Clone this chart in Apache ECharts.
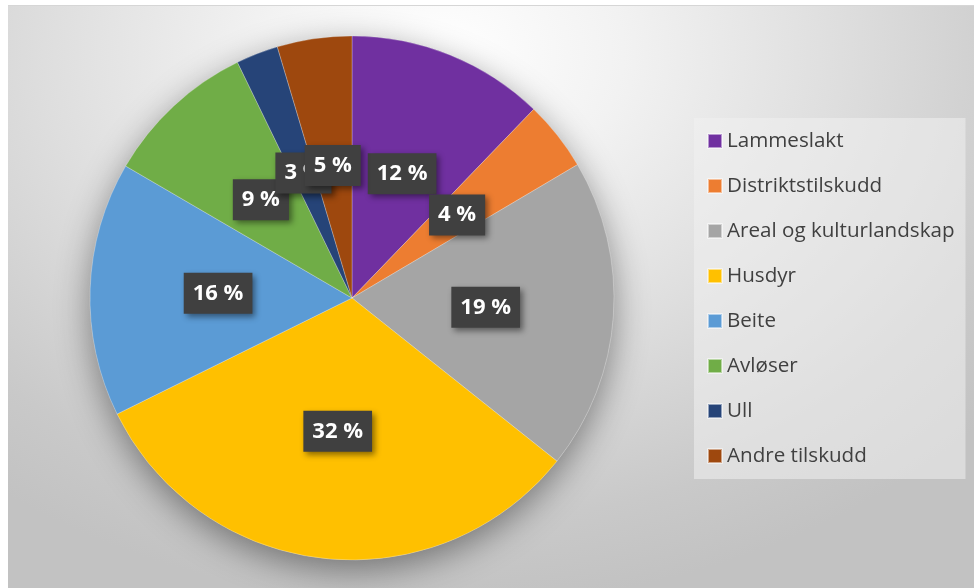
<!DOCTYPE html>
<html>
<head>
<meta charset="utf-8">
<script src="https://cdn.jsdelivr.net/npm/echarts@6/dist/echarts.min.js"></script>
<style>
  html, body { margin: 0; padding: 0; background: #ffffff; }
  #bg { position: absolute; left: 8px; top: 5px; width: 966px; height: 583px;
        border-top: 1px solid #d6d6d6;
        background: radial-gradient(ellipse 75% 95% at 45% 8%, #ffffff 0%, #f2f2f2 25%, #dedede 55%, #c9c9c9 85%, #c2c2c2 100%); }
  #chart { position: absolute; left: 0; top: 0; width: 974px; height: 588px; }
</style>
</head>
<body>
<div id="bg"></div>
<div id="chart"></div>
<script>
const categories = ['Lammeslakt', 'Distriktstilskudd', 'Areal og kulturlandskap', 'Husdyr', 'Beite', 'Avløser', 'Ull', 'Andre tilskudd'];
const shares = [12.2, 4.3, 19.2, 32.0, 15.7, 9.4, 2.6, 4.6];
const colors = ['#7030a0', '#ed7d31', '#a5a5a5', '#ffc000', '#5b9bd5', '#70ad47', '#264478', '#9e480e'];

const chart = echarts.init(document.getElementById('chart'), null, { renderer: 'canvas' });
const total = shares.reduce((a, b) => a + b, 0);

chart.setOption({
  animation: false,
  color: colors,
  legend: {
    orient: 'vertical',
    left: 694,
    top: 118,
    padding: [12, 11, 12, 13],
    itemGap: 23,
    itemWidth: 14,
    itemHeight: 14,
    icon: 'rect',
    backgroundColor: 'rgba(240,240,240,0.55)',
    data: categories,
    textStyle: { fontFamily: 'Open Sans', fontSize: 20.6, color: '#404040', lineHeight: 22 }
  },
  series: [
    {
      type: 'pie',
      name: 'shadow',
      silent: true,
      center: [352, 298],
      radius: 262,
      label: { show: false },
      labelLine: { show: false },
      itemStyle: { color: '#bdbdbd', shadowBlur: 34, shadowOffsetY: 10, shadowColor: 'rgba(0,0,0,0.42)' },
      data: [{ name: '', value: total }],
      legendHoverLink: false,
      z: 1
    },
    {
      type: 'pie',
      center: [352, 298],
      radius: 262,
      startAngle: 90,
      clockwise: true,
      avoidLabelOverlap: false,
      labelLayout: { hideOverlap: false },
      itemStyle: { borderColor: 'rgba(255,255,255,0.5)', borderWidth: 0.5 },
      label: {
        show: true,
        position: 'inside',
        formatter: p => Math.round(p.value / total * 100) + ' %',
        fontFamily: 'Open Sans',
        fontWeight: 'bold',
        fontSize: 22,
        lineHeight: 23,
        color: '#ffffff',
        backgroundColor: '#404040',
        padding: [9, 9, 9, 9],
        shadowColor: 'rgba(0,0,0,0.45)',
        shadowBlur: 6,
        shadowOffsetX: 3,
        shadowOffsetY: 3
      },
      labelLine: { show: false },
      data: categories.map((c, i) => ({ name: c, value: shares[i] })),
      z: 2
    }
  ]
});
</script>
</body>
</html>
